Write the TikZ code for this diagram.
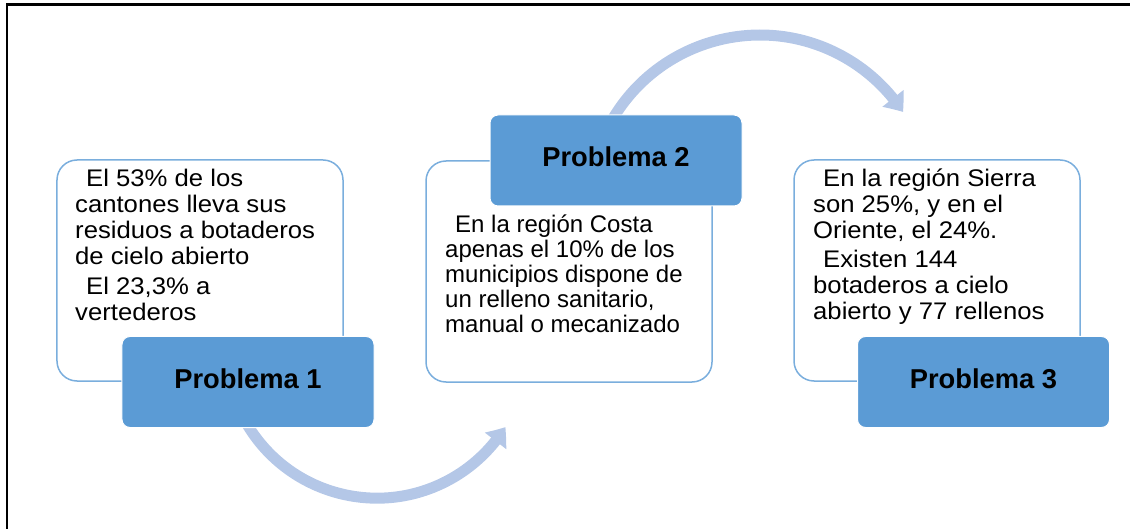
\documentclass[tikz,border=0pt]{standalone}
\usepackage{fontspec}
\setmainfont{Liberation Sans}
\newfontfamily\widefont[FakeStretch=1.07]{Liberation Sans}
\usetikzlibrary{arrows.meta,bending}
\definecolor{boxblue}{HTML}{5B9BD5}
\definecolor{edgeblue}{HTML}{7AAEDD}
\definecolor{arrowblue}{HTML}{B4C7E7}
\pgfdeclarelayer{bg}
\pgfsetlayers{bg,main}
\begin{document}
\begin{tikzpicture}[x=1bp,y=1bp,
  whitebox/.style={draw=edgeblue, line width=1.5bp, fill=white, rounded corners=20bp,
    minimum width=286bp, minimum height=221bp, inner sep=0pt},
  bluebox/.style={draw=white, line width=1bp, fill=boxblue, rounded corners=8bp,
    minimum width=252bp, minimum height=91bp, inner sep=0pt,
    font=\bfseries\fontsize{27.3bp}{30bp}\selectfont, text height=12bp, text depth=0bp},
  bodytext/.style={anchor=base west, inner sep=0pt, font=\widefont\fontsize{24bp}{26bp}\selectfont},
  flow/.style={draw=arrowblue, line width=11bp, -{Triangle[width=26bp,length=17bp,bend]}},
  framestyle/.style={draw=black, line width=2.2bp}]
\useasboundingbox (0,0) rectangle (1130,-529);
% frame
\draw[framestyle] (6.8,-529) -- (6.8,-4.5) -- (1130,-4.5);

% white boxes
\node[whitebox] (w1) at (200,-270.5) {};
\node[whitebox] (w2) at (569,-271.5) {};
\node[whitebox] (w3) at (937,-270.5) {};

% texts
\node[bodytext] (t1a) at (75,-187) {\begin{tabular}[t]{@{}l@{}}\hspace*{11bp}El 53\% de los\\ cantones lleva sus\\ residuos a botaderos\\ de cielo abierto\end{tabular}};
\node[bodytext] (t1b) at (75,-295) {\begin{tabular}[t]{@{}l@{}}\hspace*{11bp}El 23,3\% a\\ vertederos\end{tabular}};

\node[bodytext, font=\normalfont\fontsize{24bp}{24.3bp}\selectfont] (t2a) at (445,-233) {\begin{tabular}[t]{@{}l@{}}\hspace*{10bp}En la región Costa\\ apenas el 10\% de los\\ municipios dispone de\\ un relleno sanitario,\end{tabular}};
\node[bodytext, font=\normalfont\fontsize{24bp}{24.3bp}\selectfont] (t2b) at (445,-333) {manual o mecanizado};

\node[bodytext] (t3a) at (813,-187) {\begin{tabular}[t]{@{}l@{}}\hspace*{10bp}En la región Sierra\\ son 25\%, y en el\\ Oriente, el 24\%.\end{tabular}};
\node[bodytext] (t3b) at (813,-268) {\begin{tabular}[t]{@{}l@{}}\hspace*{10bp}Existen 144\\ botaderos a cielo\\ abierto y 77 rellenos\end{tabular}};

% blue boxes
\node[bluebox] (p1) at (248,-382) {Problema 1};
\node[bluebox] (p2) at (616,-160.5) {Problema 2};
\node[bluebox] (p3) at (983.5,-382) {Problema 3};

% curved arrows (behind the boxes)
\coordinate (a1s) at ([xshift=-2bp,yshift=5.5bp]p1.south);
\coordinate (a2s) at ([xshift=-2.8bp,yshift=-3.6bp]p2.north);
\begin{pgfonlayer}{bg}
\draw[flow] (a1s) arc[start angle=-150, end angle=-32, radius=151.3];
\draw[flow] (a2s) arc[start angle=149, end angle=33.4, radius=171.3];
\end{pgfonlayer}
\end{tikzpicture}
\end{document}
